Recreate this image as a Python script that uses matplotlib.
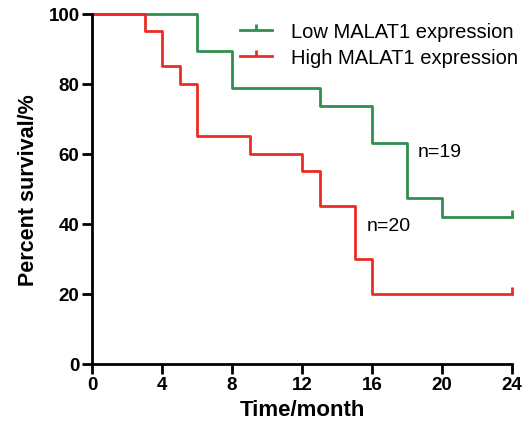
import matplotlib.pyplot as plt
from matplotlib.path import Path

plt.rcParams['font.family'] = ['Liberation Sans', 'DejaVu Sans']

# step times and survival (%) for each group
low_times = [0, 6, 8, 13, 16, 18, 20, 24]
low_surv = [100, 89.47, 78.95, 73.68, 63.16, 47.37, 42.11, 42.11]
high_times = [0, 3, 4, 5, 6, 9, 12, 13, 15, 16, 24]
high_surv = [100, 95, 85, 80, 65, 60, 55, 45, 30, 20, 20]

low_color = '#2f8f4e'
high_color = '#ec2b25'

# censor mark: short upward tick
tick_up = Path([(0, 0), (0, 1)], [Path.MOVETO, Path.LINETO])

fig = plt.figure(figsize=(5.31, 4.27), dpi=100)
ax = fig.add_axes([0.1733, 0.1452, 0.791, 0.8197])

ax.step(low_times, low_surv, where='post', color=low_color, lw=2, clip_on=False)
ax.step(high_times, high_surv, where='post', color=high_color, lw=2, clip_on=False)
ax.plot(low_times[-1:], low_surv[-1:], ls='none', marker=tick_up, ms=10,
        mew=2, color=low_color, clip_on=False)
ax.plot(high_times[-1:], high_surv[-1:], ls='none', marker=tick_up, ms=10,
        mew=2, color=high_color, clip_on=False)

# legend handles with the censor tick in the middle
h_low, = ax.plot([], [], color=low_color, lw=2, marker=tick_up, ms=8, mew=2)
h_high, = ax.plot([], [], color=high_color, lw=2, marker=tick_up, ms=8, mew=2)
ax.legend([h_low, h_high], ['Low MALAT1 expression', 'High MALAT1 expression'],
          loc='upper left', bbox_to_anchor=(0.352, 0.978), frameon=False,
          fontsize=14.5, handlelength=1.6, handletextpad=0.95, labelspacing=0.35,
          borderaxespad=0, borderpad=0)

ax.text(18.6, 60.6, 'n=19', fontsize=14, va='center', ha='left')
ax.text(15.7, 39.7, 'n=20', fontsize=14, va='center', ha='left')

ax.set_xlim(0, 24)
ax.set_ylim(0, 100)
ax.set_xticks(range(0, 25, 4))
ax.set_yticks(range(0, 101, 20))
for s in ['top', 'right']:
    ax.spines[s].set_visible(False)
for s in ['left', 'bottom']:
    ax.spines[s].set_linewidth(2)
ax.tick_params(width=2, length=7, labelsize=13.5, pad=2)
for lab in ax.get_xticklabels() + ax.get_yticklabels():
    lab.set_fontweight('bold')

ax.set_xlabel('Time/month', fontsize=16, fontweight='bold', labelpad=4)
ax.set_ylabel('Percent survival/%', fontsize=15.5, fontweight='bold', labelpad=7)

plt.savefig('out.png', dpi=100)
plt.close()
